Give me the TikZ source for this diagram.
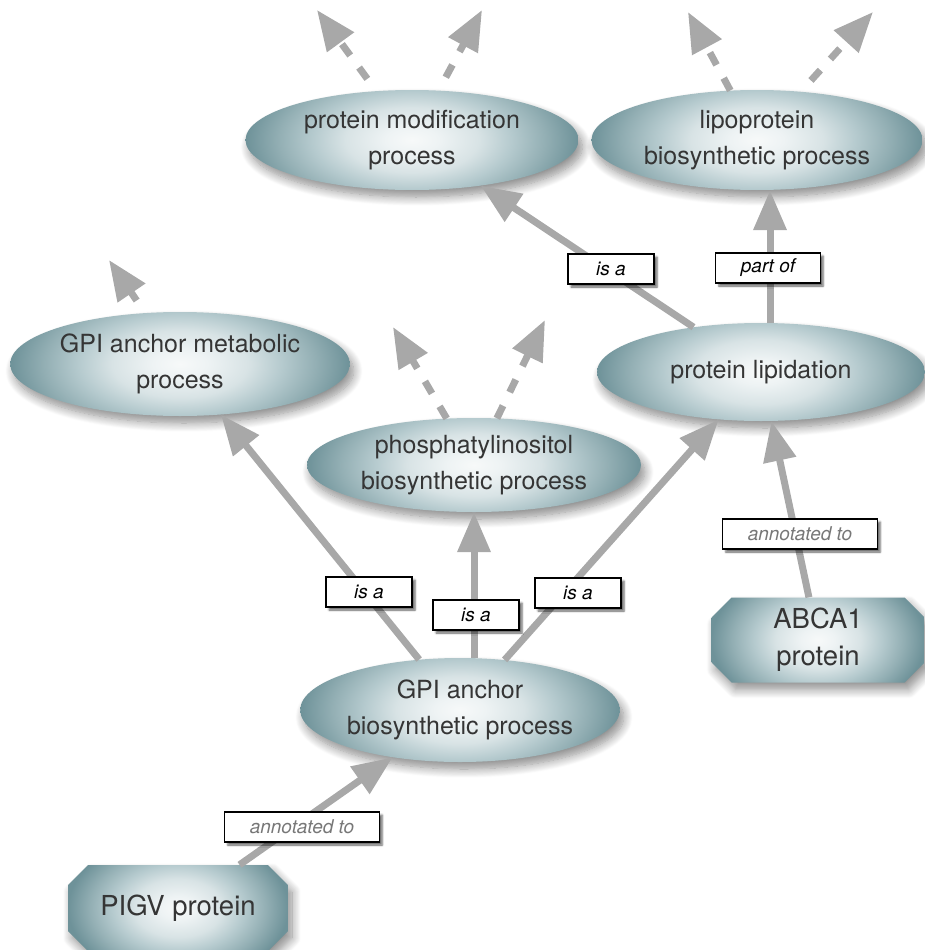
\documentclass[tikz,border=0pt]{standalone}
\usepackage{fontspec}
\setmainfont{TeX Gyre Heros}
\usetikzlibrary{arrows.meta,shapes.geometric,shapes.misc,shadows.blur}

\definecolor{edgegray}{HTML}{A8A8A8}
\definecolor{termtext}{HTML}{353535}
\definecolor{annotext}{HTML}{777777}
\definecolor{shA}{HTML}{F7F9F9}
\definecolor{shB}{HTML}{EEF3F4}
\definecolor{shC}{HTML}{D8E3E5}
\definecolor{shD}{HTML}{B5CACE}
\definecolor{shE}{HTML}{93AFB4}
\definecolor{shF}{HTML}{6E9299}

% soft radial fill used by every term and gene product
% (the shaded area's bounding box covers the inner 50bp square)
\pgfdeclareradialshading{termshade}{\pgfpoint{0bp}{0bp}}{%
  color(0bp)=(shA); color(4bp)=(shB); color(10bp)=(shC);
  color(15bp)=(shD); color(20bp)=(shE); color(25bp)=(shF);
  color(50bp)=(shF)}

\tikzset{
  % the fill is stretched taller than the shape so that the ends stay darkest
  softfill/.style={path picture={%
    \shade[shading=termshade]
      ([yshift=-#1]path picture bounding box.south west) rectangle
      ([yshift=#1]path picture bounding box.north east);}},
  term/.style={ellipse, softfill=32pt, align=center, text=termtext,
    font=\fontsize{25}{36}\selectfont, inner sep=0pt,
    blur shadow={shadow xshift=4pt, shadow yshift=-7pt,
      shadow blur radius=9pt, shadow blur steps=12, shadow opacity=45}},
  gene/.style={chamfered rectangle, chamfered rectangle xsep=10pt,
    chamfered rectangle ysep=10pt, softfill=30pt, align=center,
    text=termtext, font=\fontsize{27.5}{37}\selectfont, inner sep=0pt,
    blur shadow={shadow xshift=4pt, shadow yshift=-7pt,
      shadow blur radius=9pt, shadow blur steps=12, shadow opacity=45}},
  rel/.style={rectangle, draw=black, line width=1.2pt, fill=white,
    font=\fontsize{19}{22}\selectfont\itshape, text=black,
    inner xsep=25pt, inner ysep=0pt, minimum height=30pt, minimum width=86pt,
    blur shadow={shadow xshift=3pt, shadow yshift=-3pt,
      shadow blur radius=2pt, shadow blur steps=5, shadow opacity=60}},
  annrel/.style={rel, text=annotext},
  link/.style={draw=edgegray, line width=7pt,
    -{Triangle[length=40pt,width=32pt]}},
  uplink/.style={link, dash pattern=on 14pt off 15pt},
  uplinkoff/.style={uplink, dash phase=14pt},
}

\begin{document}
\begin{tikzpicture}[x=1pt,y=-1pt]
\useasboundingbox (0,0) rectangle (925,950);

% GO terms
\node[term, minimum width=333pt, minimum height=100pt] (mod) at (412,140)
  {protein modification\\process};
\node[term, minimum width=331pt, minimum height=100pt] (lipo) at (757,140)
  {lipoprotein\\biosynthetic process};
\node[term, minimum width=336pt, minimum height=104pt] (meta) at (180,364)
  {GPI anchor metabolic\\process};
\node[term, minimum width=328pt, minimum height=98pt] (lipid) at (761,372)
  {protein lipidation};
\node[term, minimum width=334pt, minimum height=94pt] (phos) at (474,465)
  {phosphatylinositol\\biosynthetic process};
\node[term, minimum width=310pt, minimum height=104pt] (bio) at (460,710)
  {GPI anchor\\biosynthetic process};

% gene products
\node[gene, minimum width=213pt, minimum height=85pt] (abca) at (818,640)
  {ABCA1\\protein};
\node[gene, minimum width=220pt, minimum height=86pt] (pigv) at (178,908)
  {PIGV protein};

% ends of the truncated parent links
\coordinate (modL) at (317,10);
\coordinate (modR) at (482,10);
\coordinate (lipoL) at (688,12);
\coordinate (lipoR) at (873,12);
\coordinate (metaU) at (109,260);
\coordinate (phosL) at (393,327);
\coordinate (phosR) at (545,320);

% truncated links towards further ancestors
\draw[uplinkoff] (mod) -- (modL);
\draw[uplinkoff] (mod) -- (modR);
\draw[uplink] (lipo) -- (lipoL);
\draw[uplinkoff] (lipo) -- (lipoR);
\draw[uplinkoff] (meta) -- (metaU);
\draw[uplink] (phos) -- (phosL);
\draw[uplink] (phos) -- (phosR);

% relations between terms
\draw[link] (lipid) -- (mod);
\draw[link] ([xshift=9pt]lipid.north) -- ([xshift=13pt]lipo.south);
\draw[link] (bio) -- (meta);
\draw[link] ([xshift=14pt]bio.north) -- (phos.south);
\draw[link] (bio) -- (lipid);

% annotations
\draw[link] (abca) -- (lipid);
\draw[link] (pigv) -- (bio);

% relation labels
\node[rel] (l1) at (611,269) {is a};
\node[rel] (l2) at (768,268) {part of};
\node[rel] (l3) at (369,592) {is a};
\node[rel] (l4) at (476,615) {is a};
\node[rel] (l5) at (578,593) {is a};
\node[annrel] (l6) at (800,534) {annotated to};
\node[annrel] (l7) at (302,827) {annotated to};
\end{tikzpicture}
\end{document}
